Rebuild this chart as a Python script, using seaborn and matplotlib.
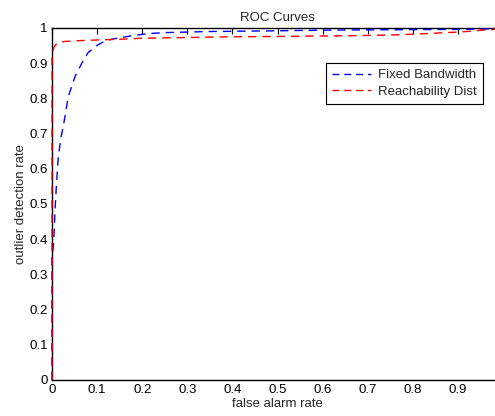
import matplotlib
matplotlib.use("Agg")
import matplotlib.pyplot as plt
import seaborn as sns
import pandas as pd

# Data
blue_fpr = [0, 0, 0.003, 0.005, 0.007, 0.010, 0.014, 0.020, 0.025, 0.036, 0.051, 0.066,
            0.080, 0.099, 0.113, 0.132, 0.177, 0.213, 0.25, 0.35, 0.5, 0.6, 0.75, 0.9, 1.0]
blue_tpr = [0, 0.35, 0.379, 0.426, 0.49, 0.559, 0.634, 0.69, 0.72, 0.805, 0.862, 0.90,
            0.930, 0.950, 0.960, 0.968, 0.978, 0.984, 0.987, 0.990, 0.992, 0.994, 0.995, 0.996, 0.998]

red_fpr = [0, 0, 0.002, 0.005, 0.01, 0.018, 0.03, 0.06, 0.1, 0.15, 0.2, 0.3, 0.4, 0.5,
           0.57, 0.66, 0.75, 0.81, 0.86, 0.91, 0.956, 1.0]
red_tpr = [0, 0.92, 0.935, 0.947, 0.955, 0.960, 0.962, 0.964, 0.966, 0.968, 0.971, 0.973,
           0.975, 0.976, 0.977, 0.978, 0.980, 0.983, 0.986, 0.989, 0.994, 0.997]

series_names = ["Fixed Bandwidth", "Reachability Dist"]
x_ticks = [0, 0.1, 0.2, 0.3, 0.4, 0.5, 0.6, 0.7, 0.8, 0.9]
x_tick_labels = ["0", "0.1", "0.2", "0.3", "0.4", "0.5", "0.6", "0.7", "0.8", "0.9"]
y_ticks = [0, 0.1, 0.2, 0.3, 0.4, 0.5, 0.6, 0.7, 0.8, 0.9, 1.0]
y_tick_labels = ["0", "0.1", "0.2", "0.3", "0.4", "0.5", "0.6", "0.7", "0.8", "0.9", "1"]

sns.set_style("white")
plt.rcParams['font.family'] = ['Liberation Sans', 'DejaVu Sans']

df_blue = pd.DataFrame({"fpr": blue_fpr, "tpr": blue_tpr})
df_red = pd.DataFrame({"fpr": red_fpr, "tpr": red_tpr})

fig = plt.figure(figsize=(4.95, 4.16), dpi=100)
ax = fig.add_axes([52 / 495, 36 / 416, 451 / 495, 352 / 416])

sns.lineplot(data=df_blue, x="fpr", y="tpr", ax=ax, color="#0000ff", lw=1,
             estimator=None, sort=False, label=series_names[0], dashes=False)
sns.lineplot(data=df_red, x="fpr", y="tpr", ax=ax, color="#ff0000", lw=1,
             estimator=None, sort=False, label=series_names[1], dashes=False)
for line in ax.get_lines():
    line.set_linestyle((0, (6, 4.3)))
    line.set_clip_on(False)
    line.set_zorder(3)

ax.set_xlim(0, 1)
ax.set_ylim(0, 1)
ax.set_xticks(x_ticks)
ax.set_xticklabels(x_tick_labels)
ax.set_yticks(y_ticks)
ax.set_yticklabels(y_tick_labels)
ax.tick_params(direction="in", length=4, width=0.8, top=True, right=True,
               labelsize=9.5, colors="black", pad=3)
for s in ax.spines.values():
    s.set_color("black")
    s.set_linewidth(1)

ax.set_xlabel("false alarm rate", fontsize=9.5, labelpad=1)
ax.set_ylabel("outlier detection rate", fontsize=9.5, labelpad=2)
ax.set_title("ROC Curves", fontsize=9.5, pad=5)

leg = ax.legend(loc="upper right", bbox_to_anchor=(0.955, 0.9), fontsize=9.5,
                frameon=True, fancybox=False, edgecolor="black", framealpha=1,
                handlelength=3.0, borderpad=0.45, labelspacing=0.3, handletextpad=0.5,
                borderaxespad=0)
leg.get_frame().set_linewidth(0.8)
leg.set_zorder(5)
for h in leg.get_lines():
    h.set_linestyle((0, (5, 3.5)))

fig.savefig("out.png", dpi=100)
